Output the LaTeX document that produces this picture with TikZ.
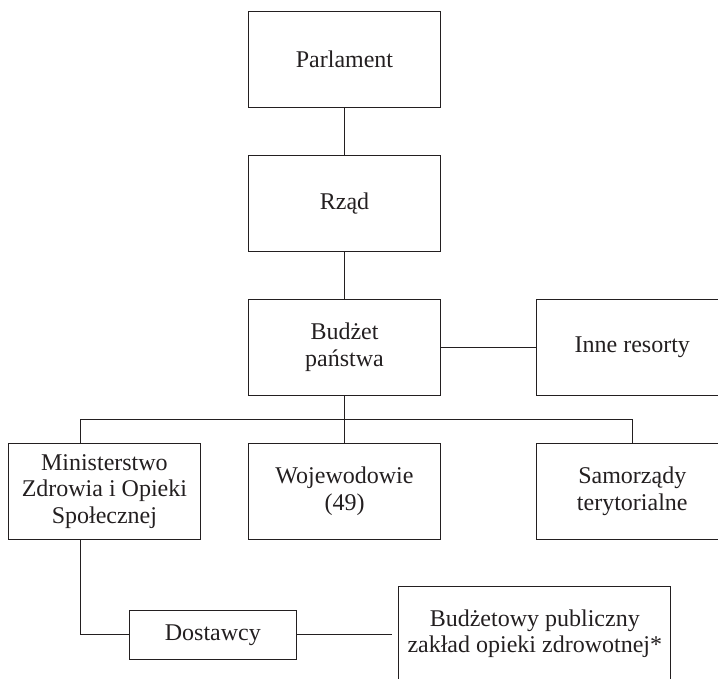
\documentclass[tikz,border=0pt]{standalone}
\usepackage{fontspec}
\setmainfont{Liberation Serif}
\begin{document}
\definecolor{ink}{HTML}{231F20}
\begin{tikzpicture}[x=1pt,y=-1pt,
  box/.style={draw=ink,line width=1.1pt,rectangle,inner sep=0pt,align=center,
    text=ink,font=\fontsize{24}{26.5}\selectfont},
  bigbox/.style={box,minimum width=192pt,minimum height=96pt},
  link/.style={draw=ink,line width=1.1pt}]
  % fixed canvas; boxes on the right and bottom run past its edges
  \useasboundingbox (0,0) rectangle (718,678);
  \clip (0,0) rectangle (718,678);

  % main column
  \node[bigbox] (parl) at (344.5,59.7)  {Parlament};
  \node[bigbox] (rzad) at (344.5,203.3) {Rząd};
  \node[bigbox] (budz) at (344.5,347.3) {Budżet\\państwa};
  \node[bigbox] (inne) at (632.3,347.3) {Inne resorty};

  % second level
  \node[bigbox] (mzos) at (104.4,491.2) {Ministerstwo\\Zdrowia i Opieki\\Społecznej};
  \node[bigbox] (woj)  at (344.5,491.2) {Wojewodowie\\(49)};
  \node[bigbox] (sam)  at (632.3,491.2) {Samorządy\\terytorialne};

  % bottom row
  \node[box,minimum width=167.7pt,minimum height=48.3pt] (dost) at (212.9,634.9) {Dostawcy};
  \node[box,minimum width=272pt,minimum height=95pt] (bpzoz) at (534.8,633.7)
    {Budżetowy publiczny\\zakład opieki zdrowotnej*};

  % connector anchor points
  \coordinate (bar)   at (344.5,419.3);
  \coordinate (mzosN) at ([xshift=72.8pt]mzos.north west);
  \coordinate (mzosS) at ([xshift=72.8pt]mzos.south west);
  \coordinate (bpzgap) at (392.4,634.9);

  % connectors
  \draw[link] (parl.south) -- (rzad.north);
  \draw[link] (rzad.south) -- (budz.north);
  \draw[link] (budz.east) -- (inne.west);
  \draw[link] (budz.south) -- (woj.north);
  \draw[link] (mzosN) |- (bar) -| (sam.north);
  \draw[link] (mzosS) |- (dost.west);
  \draw[link] (dost.east) -- (bpzgap);
\end{tikzpicture}
\end{document}
